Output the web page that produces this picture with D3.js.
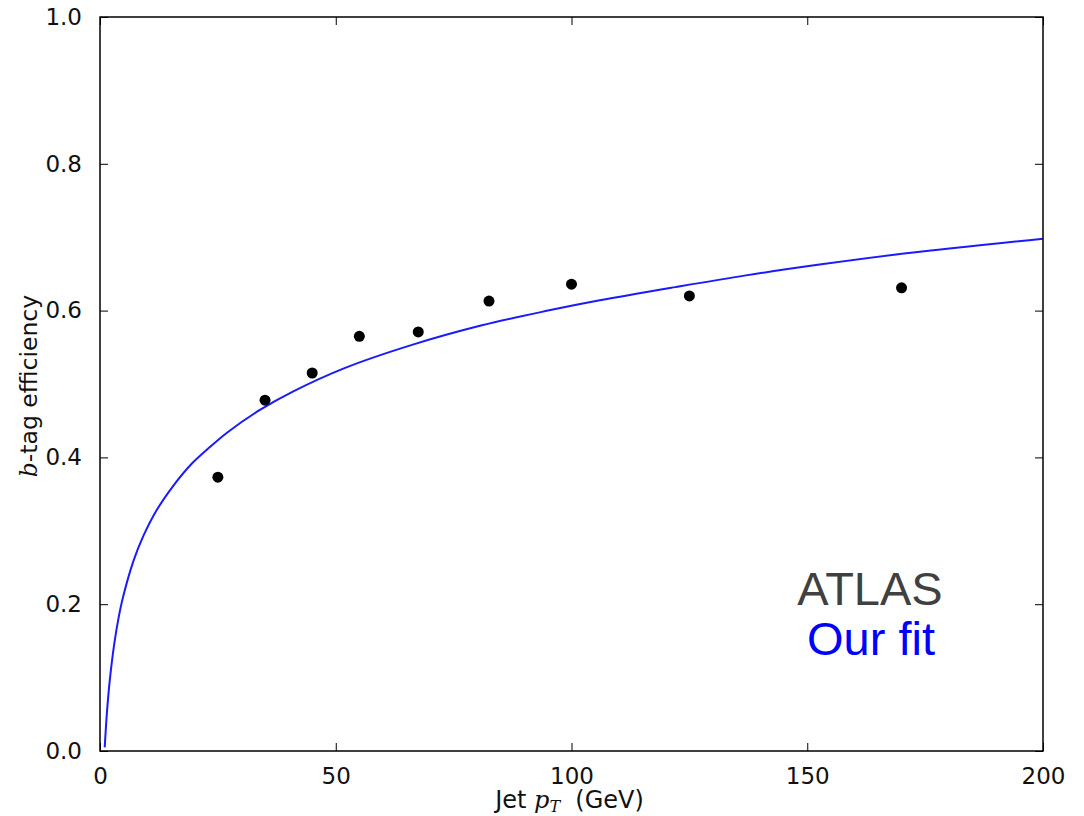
<!DOCTYPE html>
<html lang="en">
<head>
<meta charset="UTF-8">
<title>b-tag efficiency</title>
<script src="https://cdn.jsdelivr.net/npm/d3@7"></script>
<style>
  html, body { margin: 0; padding: 0; background: #fff; }
  svg { display: block; }
  text { font-family: "DejaVu Sans", sans-serif; fill: #111; }
</style>
</head>
<body>
<svg id="chart" width="1084" height="816"></svg>
<script>
// ATLAS measured points (jet pT in GeV, b-tag efficiency)
var atlasPt  = [25, 35, 45, 55, 67.5, 82.5, 100, 125, 170];
var atlasEff = [0.373, 0.478, 0.515, 0.565, 0.571, 0.613, 0.636, 0.620, 0.631];

// fitted curve, points
var fitPt  = [1.0, 1.5, 2.1, 3.0, 3.9, 4.9, 7.1, 9.2, 12, 15.5, 19.1, 23.3, 27, 34, 41, 52, 66, 81, 95, 106, 122, 137, 153, 171, 200];
var fitEff = [0.005, 0.055, 0.098, 0.145, 0.180, 0.210, 0.259, 0.293, 0.328, 0.361, 0.389, 0.414, 0.434, 0.465, 0.490, 0.522, 0.553, 0.580, 0.600, 0.614, 0.632, 0.648, 0.663, 0.678, 0.698];

var xTicks = [0, 50, 100, 150, 200];
var yTicks = [0.0, 0.2, 0.4, 0.6, 0.8, 1.0];

var svg = d3.select("#chart");
var mLeft = 100, mRight = 1043, mTop = 17, mBottom = 751;

var x = d3.scaleLinear().domain([0, 200]).range([mLeft, mRight]);
var y = d3.scaleLinear().domain([0, 1]).range([mBottom, mTop]);

// fit line
var line = d3.line()
    .x(function(d) { return x(d[0]); })
    .y(function(d) { return y(d[1]); })
    .curve(d3.curveCatmullRom.alpha(0.5));

svg.append("path")
    .datum(d3.zip(fitPt, fitEff))
    .attr("d", line)
    .attr("fill", "none")
    .attr("stroke", "#1a1aff")
    .attr("stroke-width", 2);

// data points
svg.append("g").selectAll("circle")
    .data(d3.zip(atlasPt, atlasEff))
    .join("circle")
    .attr("cx", function(d) { return x(d[0]); })
    .attr("cy", function(d) { return y(d[1]); })
    .attr("r", 5.5)
    .attr("fill", "#000");

// axes, ticks pointing inward on all four sides
var tk = 8;
var bottomAxis = d3.axisBottom(x).tickValues(xTicks).tickSize(-tk).tickPadding(tk + 9).tickFormat(d3.format("d"));
var topAxis = d3.axisTop(x).tickValues(xTicks).tickSize(-tk).tickFormat("");
var leftAxis = d3.axisLeft(y).tickValues(yTicks).tickSize(-tk).tickPadding(tk + 10).tickFormat(d3.format(".1f"));
var rightAxis = d3.axisRight(y).tickValues(yTicks).tickSize(-tk).tickFormat("");

function styleAxis(g) {
  g.select(".domain").remove();
  g.selectAll(".tick line").attr("stroke", "#000").attr("stroke-width", 1);
  g.selectAll(".tick text").style("font-family", "DejaVu Sans, sans-serif").style("font-size", "23px").attr("fill", "#111");
}

svg.append("g").attr("transform", "translate(0," + mBottom + ")").call(bottomAxis).call(styleAxis);
svg.append("g").attr("transform", "translate(0," + mTop + ")").call(topAxis).call(styleAxis);
svg.append("g").attr("transform", "translate(" + mLeft + ",0)").call(leftAxis).call(styleAxis);
svg.append("g").attr("transform", "translate(" + mRight + ",0)").call(rightAxis).call(styleAxis);

// frame
svg.append("rect")
    .attr("x", mLeft).attr("y", mTop)
    .attr("width", mRight - mLeft).attr("height", mBottom - mTop)
    .attr("fill", "none").attr("stroke", "#000").attr("stroke-width", 1.5);

// axis titles
var xt = svg.append("text")
    .attr("x", (mLeft + mRight) / 2 - 2).attr("y", 808)
    .attr("text-anchor", "middle")
    .style("font-size", "24px");
xt.append("tspan").text("Jet ");
xt.append("tspan").style("font-family", "DejaVu Serif, serif").style("font-style", "italic").text("p");
xt.append("tspan").attr("dy", 4).style("font-family", "DejaVu Serif, serif").style("font-style", "italic").style("font-size", "16px").text("T");
xt.append("tspan").attr("dy", -4).text("\u00a0 (GeV)");

var yt = svg.append("text")
    .attr("transform", "translate(37," + ((mTop + mBottom) / 2 + 2) + ") rotate(-90)")
    .attr("text-anchor", "middle")
    .style("font-size", "23.5px");
yt.append("tspan").style("font-family", "DejaVu Serif, serif").style("font-style", "italic").text("b");
yt.append("tspan").text("-tag efficiency");

// legend text
svg.append("text")
    .attr("x", 870).attr("y", 605)
    .attr("text-anchor", "middle")
    .style("font-family", "Liberation Sans, Arial, sans-serif")
    .style("font-size", "47px")
    .style("fill", "#404040")
    .text("ATLAS");
svg.append("text")
    .attr("x", 871).attr("y", 655)
    .attr("text-anchor", "middle")
    .style("font-family", "Liberation Sans, Arial, sans-serif")
    .style("font-size", "47px")
    .style("fill", "#0000ff")
    .text("Our fit");
</script>
</body>
</html>
